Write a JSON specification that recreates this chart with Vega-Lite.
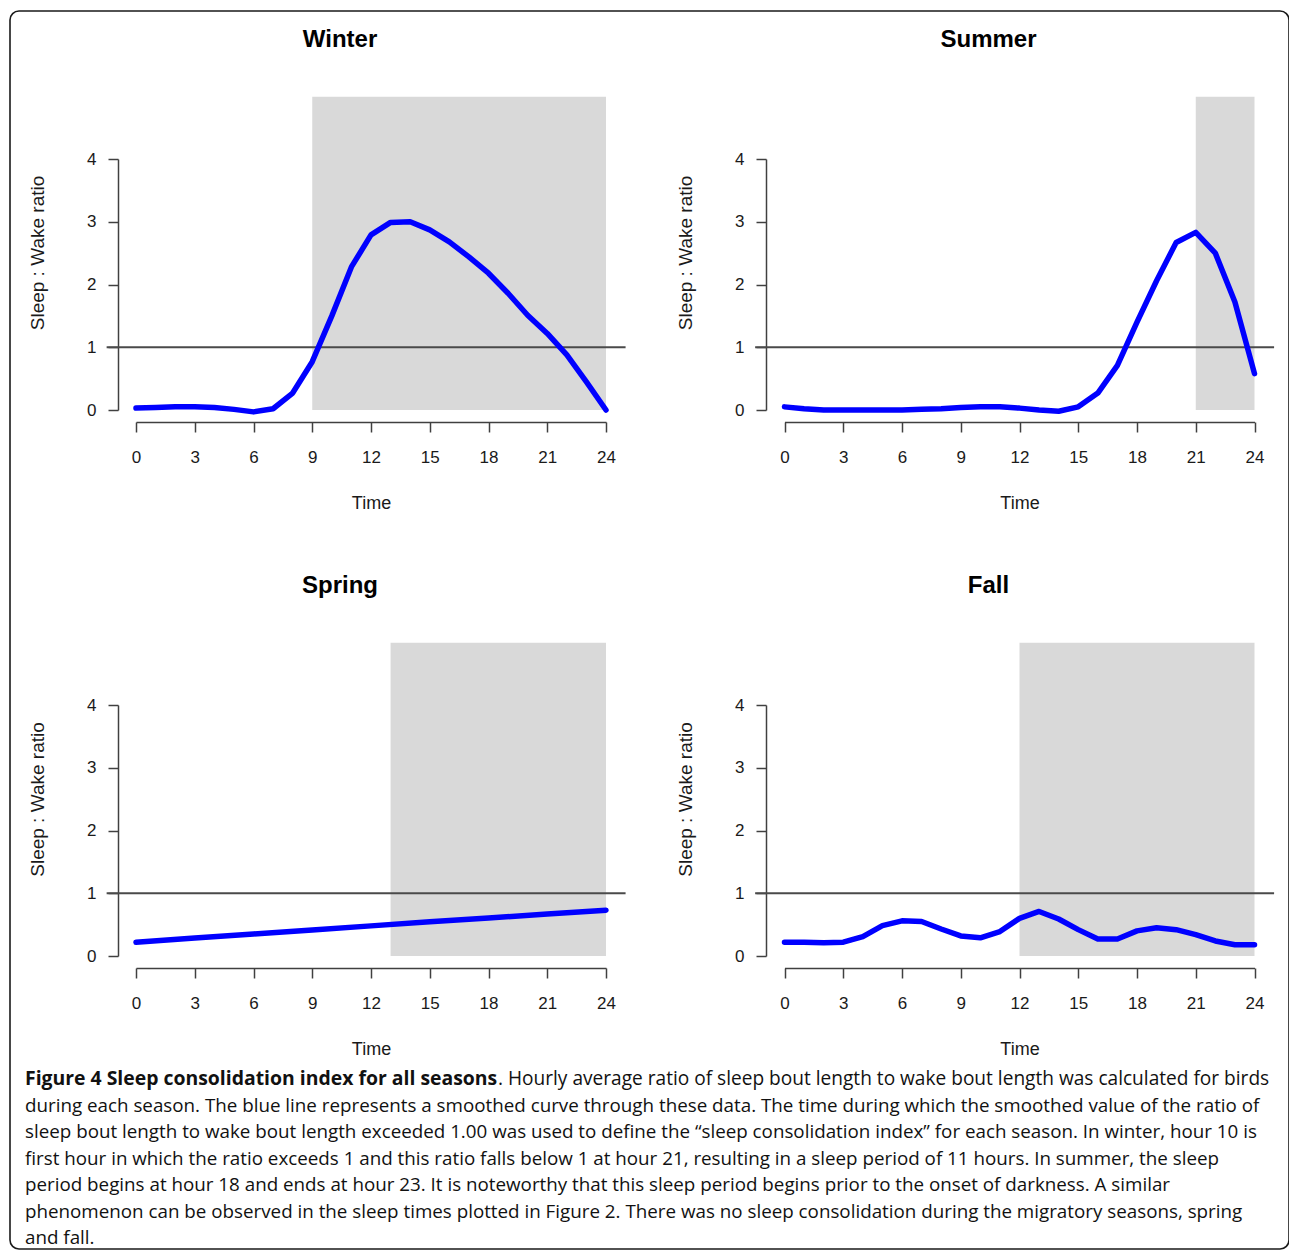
{
  "$schema": "https://vega.github.io/schema/vega-lite/v6.json",
  "background": "white",
  "padding": {"left": 10, "top": 11, "right": 0, "bottom": 5},
  "width": 1279,
  "height": 1238,
  "view": {"stroke": "#1a1a1a", "strokeWidth": 1.6, "cornerRadius": 9},
  "datasets": {
    "curves": [
      {"season":"Winter","hour":0,"ratio":0.03},{"season":"Winter","hour":1,"ratio":0.04},{"season":"Winter","hour":2,"ratio":0.05},{"season":"Winter","hour":3,"ratio":0.05},{"season":"Winter","hour":4,"ratio":0.04},{"season":"Winter","hour":5,"ratio":0.01},{"season":"Winter","hour":6,"ratio":-0.03},{"season":"Winter","hour":7,"ratio":0.02},{"season":"Winter","hour":8,"ratio":0.27},{"season":"Winter","hour":9,"ratio":0.77},{"season":"Winter","hour":10,"ratio":1.5},{"season":"Winter","hour":11,"ratio":2.28},{"season":"Winter","hour":12,"ratio":2.79},{"season":"Winter","hour":13,"ratio":2.99},{"season":"Winter","hour":14,"ratio":3.0},{"season":"Winter","hour":15,"ratio":2.87},{"season":"Winter","hour":16,"ratio":2.68},{"season":"Winter","hour":17,"ratio":2.44},{"season":"Winter","hour":18,"ratio":2.18},{"season":"Winter","hour":19,"ratio":1.86},{"season":"Winter","hour":20,"ratio":1.51},{"season":"Winter","hour":21,"ratio":1.22},{"season":"Winter","hour":22,"ratio":0.88},{"season":"Winter","hour":23,"ratio":0.45},{"season":"Winter","hour":24,"ratio":0.0},
      {"season":"Summer","hour":0,"ratio":0.05},{"season":"Summer","hour":1,"ratio":0.02},{"season":"Summer","hour":2,"ratio":0.0},{"season":"Summer","hour":3,"ratio":0.0},{"season":"Summer","hour":4,"ratio":0.0},{"season":"Summer","hour":5,"ratio":0.0},{"season":"Summer","hour":6,"ratio":0.0},{"season":"Summer","hour":7,"ratio":0.01},{"season":"Summer","hour":8,"ratio":0.02},{"season":"Summer","hour":9,"ratio":0.04},{"season":"Summer","hour":10,"ratio":0.05},{"season":"Summer","hour":11,"ratio":0.05},{"season":"Summer","hour":12,"ratio":0.03},{"season":"Summer","hour":13,"ratio":0.0},{"season":"Summer","hour":14,"ratio":-0.02},{"season":"Summer","hour":15,"ratio":0.05},{"season":"Summer","hour":16,"ratio":0.27},{"season":"Summer","hour":17,"ratio":0.71},{"season":"Summer","hour":18,"ratio":1.4},{"season":"Summer","hour":19,"ratio":2.06},{"season":"Summer","hour":20,"ratio":2.67},{"season":"Summer","hour":21,"ratio":2.83},{"season":"Summer","hour":22,"ratio":2.5},{"season":"Summer","hour":23,"ratio":1.72},{"season":"Summer","hour":24,"ratio":0.58},
      {"season":"Spring","hour":0,"ratio":0.22},{"season":"Spring","hour":3,"ratio":0.285},{"season":"Spring","hour":6,"ratio":0.35},{"season":"Spring","hour":9,"ratio":0.415},{"season":"Spring","hour":12,"ratio":0.48},{"season":"Spring","hour":15,"ratio":0.545},{"season":"Spring","hour":18,"ratio":0.605},{"season":"Spring","hour":21,"ratio":0.67},{"season":"Spring","hour":24,"ratio":0.73},
      {"season":"Fall","hour":0,"ratio":0.22},{"season":"Fall","hour":1,"ratio":0.22},{"season":"Fall","hour":2,"ratio":0.21},{"season":"Fall","hour":3,"ratio":0.22},{"season":"Fall","hour":4,"ratio":0.31},{"season":"Fall","hour":5,"ratio":0.485},{"season":"Fall","hour":6,"ratio":0.56},{"season":"Fall","hour":7,"ratio":0.55},{"season":"Fall","hour":8,"ratio":0.43},{"season":"Fall","hour":9,"ratio":0.32},{"season":"Fall","hour":10,"ratio":0.29},{"season":"Fall","hour":11,"ratio":0.39},{"season":"Fall","hour":12,"ratio":0.6},{"season":"Fall","hour":13,"ratio":0.71},{"season":"Fall","hour":14,"ratio":0.59},{"season":"Fall","hour":15,"ratio":0.42},{"season":"Fall","hour":16,"ratio":0.27},{"season":"Fall","hour":17,"ratio":0.27},{"season":"Fall","hour":18,"ratio":0.4},{"season":"Fall","hour":19,"ratio":0.45},{"season":"Fall","hour":20,"ratio":0.42},{"season":"Fall","hour":21,"ratio":0.34},{"season":"Fall","hour":22,"ratio":0.24},{"season":"Fall","hour":23,"ratio":0.18},{"season":"Fall","hour":24,"ratio":0.18}
    ],
    "dark": [
      {"season":"Winter","dark_start":9,"dark_end":24},
      {"season":"Summer","dark_start":21,"dark_end":24},
      {"season":"Spring","dark_start":13,"dark_end":24},
      {"season":"Fall","dark_start":12,"dark_end":24}
    ],
    "panels": [{"season":"Winter"},{"season":"Summer"},{"season":"Spring"},{"season":"Fall"}],
    "threshold": [{"ratio": 1}],
    "caption": [
      {"line":0,"part":"bold","text":"Figure 4 Sleep consolidation index for all seasons"},
      {"line":0,"part":"tail","text":". Hourly average ratio of sleep bout length to wake bout length was calculated for birds"},
      {"line":1,"part":"body","text":"during each season. The blue line represents a smoothed curve through these data. The time during which the smoothed value of the ratio of"},
      {"line":2,"part":"body","text":"sleep bout length to wake bout length exceeded 1.00 was used to define the “sleep consolidation index” for each season. In winter, hour 10 is"},
      {"line":3,"part":"body","text":"first hour in which the ratio exceeds 1 and this ratio falls below 1 at hour 21, resulting in a sleep period of 11 hours. In summer, the sleep"},
      {"line":4,"part":"body","text":"period begins at hour 18 and ends at hour 23. It is noteworthy that this sleep period begins prior to the onset of darkness. A similar"},
      {"line":5,"part":"body","text":"phenomenon can be observed in the sleep times plotted in Figure 2. There was no sleep consolidation during the migratory seasons, spring"},
      {"line":6,"part":"body","text":"and fall."}
    ]
  },
  "config": {
    "font": "Liberation Sans",
    "axis": {"grid": false, "domainColor": "#404040", "domainWidth": 1.5, "tickColor": "#404040", "tickWidth": 1.5, "tickSize": 10, "labelFont": "Liberation Sans", "labelFontSize": 17, "labelColor": "#1a1a1a", "labelFlush": false, "labelOverlap": false, "titleFont": "Liberation Sans", "titleFontWeight": "normal", "titleColor": "#1a1a1a"},
    "axisX": {"labelPadding": 17, "titlePadding": 29, "titleFontSize": 18},
    "axisY": {"labelPadding": 12, "titleFontSize": 19}
  },
  "resolve": {"scale": {"x": "independent", "y": "independent"}, "axis": {"x": "independent", "y": "independent"}},
  "layer": [
    {"data": {"name": "dark"}, "transform": [{"filter": "datum.season == 'Winter'"}],
     "mark": {"type": "rect", "color": "#d9d9d9"},
     "encoding": {
       "x": {"field": "dark_start", "type": "quantitative", "scale": {"domain": [0, 24], "nice": false, "zero": false, "range": [126, 596]}, "axis": null},
       "x2": {"field": "dark_end"},
       "y": {"datum": 0, "type": "quantitative", "scale": {"domain": [0, 4], "nice": false, "zero": false, "range": [399, 148]}, "axis": null},
       "y2": {"datum": 4.992}
     }},
    {"data": {"name": "dark"}, "transform": [{"filter": "datum.season == 'Summer'"}],
     "mark": {"type": "rect", "color": "#d9d9d9"},
     "encoding": {
       "x": {"field": "dark_start", "type": "quantitative", "scale": {"domain": [0, 24], "nice": false, "zero": false, "range": [774.5, 1244.5]}, "axis": null},
       "x2": {"field": "dark_end"},
       "y": {"datum": 0, "type": "quantitative", "scale": {"domain": [0, 4], "nice": false, "zero": false, "range": [399, 148]}, "axis": null},
       "y2": {"datum": 4.992}
     }},
    {"data": {"name": "dark"}, "transform": [{"filter": "datum.season == 'Spring'"}],
     "mark": {"type": "rect", "color": "#d9d9d9"},
     "encoding": {
       "x": {"field": "dark_start", "type": "quantitative", "scale": {"domain": [0, 24], "nice": false, "zero": false, "range": [126, 596]}, "axis": null},
       "x2": {"field": "dark_end"},
       "y": {"datum": 0, "type": "quantitative", "scale": {"domain": [0, 4], "nice": false, "zero": false, "range": [945, 694]}, "axis": null},
       "y2": {"datum": 4.992}
     }},
    {"data": {"name": "dark"}, "transform": [{"filter": "datum.season == 'Fall'"}],
     "mark": {"type": "rect", "color": "#d9d9d9"},
     "encoding": {
       "x": {"field": "dark_start", "type": "quantitative", "scale": {"domain": [0, 24], "nice": false, "zero": false, "range": [774.5, 1244.5]}, "axis": null},
       "x2": {"field": "dark_end"},
       "y": {"datum": 0, "type": "quantitative", "scale": {"domain": [0, 4], "nice": false, "zero": false, "range": [945, 694]}, "axis": null},
       "y2": {"datum": 4.992}
     }},
    {"data": {"name": "threshold"},
     "mark": {"type": "rule", "color": "#4a4a4a", "strokeWidth": 2},
     "encoding": {
       "x": {"datum": -1.5, "type": "quantitative", "scale": {"domain": [0, 24], "nice": false, "zero": false, "range": [126, 596]}, "axis": null},
       "x2": {"datum": 25},
       "y": {"field": "ratio", "type": "quantitative", "scale": {"domain": [0, 4], "nice": false, "zero": false, "range": [399, 148]}, "axis": null}
     }},
    {"data": {"name": "threshold"},
     "mark": {"type": "rule", "color": "#4a4a4a", "strokeWidth": 2},
     "encoding": {
       "x": {"datum": -1.5, "type": "quantitative", "scale": {"domain": [0, 24], "nice": false, "zero": false, "range": [774.5, 1244.5]}, "axis": null},
       "x2": {"datum": 25},
       "y": {"field": "ratio", "type": "quantitative", "scale": {"domain": [0, 4], "nice": false, "zero": false, "range": [399, 148]}, "axis": null}
     }},
    {"data": {"name": "threshold"},
     "mark": {"type": "rule", "color": "#4a4a4a", "strokeWidth": 2},
     "encoding": {
       "x": {"datum": -1.5, "type": "quantitative", "scale": {"domain": [0, 24], "nice": false, "zero": false, "range": [126, 596]}, "axis": null},
       "x2": {"datum": 25},
       "y": {"field": "ratio", "type": "quantitative", "scale": {"domain": [0, 4], "nice": false, "zero": false, "range": [945, 694]}, "axis": null}
     }},
    {"data": {"name": "threshold"},
     "mark": {"type": "rule", "color": "#4a4a4a", "strokeWidth": 2},
     "encoding": {
       "x": {"datum": -1.5, "type": "quantitative", "scale": {"domain": [0, 24], "nice": false, "zero": false, "range": [774.5, 1244.5]}, "axis": null},
       "x2": {"datum": 25},
       "y": {"field": "ratio", "type": "quantitative", "scale": {"domain": [0, 4], "nice": false, "zero": false, "range": [945, 694]}, "axis": null}
     }},
    {"data": {"name": "curves"}, "transform": [{"filter": "datum.season == 'Winter'"}],
     "mark": {"type": "line", "color": "#0000ff", "strokeWidth": 5.5, "strokeCap": "round", "strokeJoin": "round"},
     "encoding": {
       "x": {"field": "hour", "type": "quantitative", "title": "Time", "scale": {"domain": [0, 24], "nice": false, "zero": false, "range": [126, 596]}, "axis": {"orient": "bottom", "offset": -827, "values": [0,3,6,9,12,15,18,21,24]}},
       "y": {"field": "ratio", "type": "quantitative", "title": "Sleep : Wake ratio", "scale": {"domain": [0, 4], "nice": false, "zero": false, "range": [399, 148]}, "axis": {"orient": "left", "offset": -108, "values": [0,1,2,3,4], "titleX": -71, "titleY": 241.5}}
     }},
    {"data": {"name": "curves"}, "transform": [{"filter": "datum.season == 'Summer'"}],
     "mark": {"type": "line", "color": "#0000ff", "strokeWidth": 5.5, "strokeCap": "round", "strokeJoin": "round"},
     "encoding": {
       "x": {"field": "hour", "type": "quantitative", "title": "Time", "scale": {"domain": [0, 24], "nice": false, "zero": false, "range": [774.5, 1244.5]}, "axis": {"orient": "bottom", "offset": -827, "values": [0,3,6,9,12,15,18,21,24]}},
       "y": {"field": "ratio", "type": "quantitative", "title": "Sleep : Wake ratio", "scale": {"domain": [0, 4], "nice": false, "zero": false, "range": [399, 148]}, "axis": {"orient": "left", "offset": -756, "values": [0,1,2,3,4], "titleX": -71, "titleY": 241.5}}
     }},
    {"data": {"name": "curves"}, "transform": [{"filter": "datum.season == 'Spring'"}],
     "mark": {"type": "line", "color": "#0000ff", "strokeWidth": 5.5, "strokeCap": "round", "strokeJoin": "round"},
     "encoding": {
       "x": {"field": "hour", "type": "quantitative", "title": "Time", "scale": {"domain": [0, 24], "nice": false, "zero": false, "range": [126, 596]}, "axis": {"orient": "bottom", "offset": -281, "values": [0,3,6,9,12,15,18,21,24]}},
       "y": {"field": "ratio", "type": "quantitative", "title": "Sleep : Wake ratio", "scale": {"domain": [0, 4], "nice": false, "zero": false, "range": [945, 694]}, "axis": {"orient": "left", "offset": -108, "values": [0,1,2,3,4], "titleX": -71, "titleY": 788}}
     }},
    {"data": {"name": "curves"}, "transform": [{"filter": "datum.season == 'Fall'"}],
     "mark": {"type": "line", "color": "#0000ff", "strokeWidth": 5.5, "strokeCap": "round", "strokeJoin": "round"},
     "encoding": {
       "x": {"field": "hour", "type": "quantitative", "title": "Time", "scale": {"domain": [0, 24], "nice": false, "zero": false, "range": [774.5, 1244.5]}, "axis": {"orient": "bottom", "offset": -281, "values": [0,3,6,9,12,15,18,21,24]}},
       "y": {"field": "ratio", "type": "quantitative", "title": "Sleep : Wake ratio", "scale": {"domain": [0, 4], "nice": false, "zero": false, "range": [945, 694]}, "axis": {"orient": "left", "offset": -756, "values": [0,1,2,3,4], "titleX": -71, "titleY": 788}}
     }},
    {"data": {"name": "panels"}, "transform": [{"filter": "datum.season == 'Winter'"}],
     "mark": {"type": "text", "font": "Liberation Sans", "fontSize": 24, "fontWeight": "bold", "color": "#000000", "align": "center", "baseline": "alphabetic", "dx": -31, "dy": -49.5},
     "encoding": {
       "x": {"datum": 12, "type": "quantitative", "scale": {"domain": [0, 24], "nice": false, "zero": false, "range": [126, 596]}, "axis": null},
       "y": {"datum": 4.992, "type": "quantitative", "scale": {"domain": [0, 4], "nice": false, "zero": false, "range": [399, 148]}, "axis": null},
       "text": {"field": "season"}
     }},
    {"data": {"name": "panels"}, "transform": [{"filter": "datum.season == 'Summer'"}],
     "mark": {"type": "text", "font": "Liberation Sans", "fontSize": 24, "fontWeight": "bold", "color": "#000000", "align": "center", "baseline": "alphabetic", "dx": -31, "dy": -49.5},
     "encoding": {
       "x": {"datum": 12, "type": "quantitative", "scale": {"domain": [0, 24], "nice": false, "zero": false, "range": [774.5, 1244.5]}, "axis": null},
       "y": {"datum": 4.992, "type": "quantitative", "scale": {"domain": [0, 4], "nice": false, "zero": false, "range": [399, 148]}, "axis": null},
       "text": {"field": "season"}
     }},
    {"data": {"name": "panels"}, "transform": [{"filter": "datum.season == 'Spring'"}],
     "mark": {"type": "text", "font": "Liberation Sans", "fontSize": 24, "fontWeight": "bold", "color": "#000000", "align": "center", "baseline": "alphabetic", "dx": -31, "dy": -49.5},
     "encoding": {
       "x": {"datum": 12, "type": "quantitative", "scale": {"domain": [0, 24], "nice": false, "zero": false, "range": [126, 596]}, "axis": null},
       "y": {"datum": 4.992, "type": "quantitative", "scale": {"domain": [0, 4], "nice": false, "zero": false, "range": [945, 694]}, "axis": null},
       "text": {"field": "season"}
     }},
    {"data": {"name": "panels"}, "transform": [{"filter": "datum.season == 'Fall'"}],
     "mark": {"type": "text", "font": "Liberation Sans", "fontSize": 24, "fontWeight": "bold", "color": "#000000", "align": "center", "baseline": "alphabetic", "dx": -31, "dy": -49.5},
     "encoding": {
       "x": {"datum": 12, "type": "quantitative", "scale": {"domain": [0, 24], "nice": false, "zero": false, "range": [774.5, 1244.5]}, "axis": null},
       "y": {"datum": 4.992, "type": "quantitative", "scale": {"domain": [0, 4], "nice": false, "zero": false, "range": [945, 694]}, "axis": null},
       "text": {"field": "season"}
     }},
    {"data": {"name": "caption"}, "transform": [{"filter": "datum.part == 'bold'"}],
     "mark": {"type": "text", "align": "left", "baseline": "middle", "font": "Open Sans", "fontSize": 19.4, "fontWeight": "bold", "color": "#111111"},
     "encoding": {
       "x": {"value": 15},
       "y": {"field": "line", "type": "quantitative", "scale": {"domain": [0, 6], "range": [1068, 1227]}, "axis": null},
       "text": {"field": "text"}
     }},
    {"data": {"name": "caption"}, "transform": [{"filter": "datum.part == 'tail'"}],
     "mark": {"type": "text", "align": "left", "baseline": "middle", "font": "Open Sans", "fontSize": 19.1, "color": "#111111", "dx": 473},
     "encoding": {
       "x": {"value": 15},
       "y": {"field": "line", "type": "quantitative", "scale": {"domain": [0, 6], "range": [1068, 1227]}, "axis": null},
       "text": {"field": "text"}
     }},
    {"data": {"name": "caption"}, "transform": [{"filter": "datum.part == 'body'"}],
     "mark": {"type": "text", "align": "left", "baseline": "middle", "font": "Open Sans", "fontSize": 18.8, "color": "#111111"},
     "encoding": {
       "x": {"value": 15},
       "y": {"field": "line", "type": "quantitative", "scale": {"domain": [0, 6], "range": [1068, 1227]}, "axis": null},
       "text": {"field": "text"}
     }}
  ]
}
